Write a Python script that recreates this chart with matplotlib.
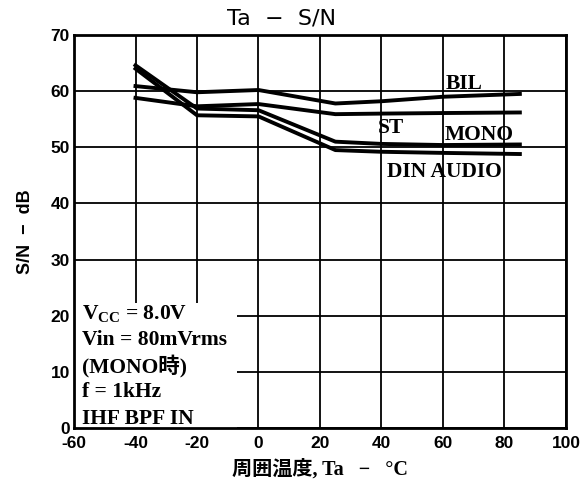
import matplotlib
matplotlib.use('Agg')
import matplotlib.pyplot as plt
from matplotlib.patches import Rectangle

plt.rcParams['font.family'] = ['Liberation Sans', 'Noto Sans CJK JP']
plt.rcParams['axes.unicode_minus'] = False
plt.rcParams['mathtext.fontset'] = 'custom'
plt.rcParams['mathtext.rm'] = 'Liberation Serif:bold'
plt.rcParams['mathtext.it'] = 'Liberation Serif:bold'
plt.rcParams['mathtext.bf'] = 'Liberation Serif:bold'

# 周囲温度 (°C)
temps = [-40, -20, 0, 25, 40, 60, 85]
# S/N (dB)
bil = [60.9, 59.8, 60.2, 57.8, 58.2, 59.0, 59.5]
st = [58.8, 57.3, 57.7, 55.9, 56.0, 56.1, 56.2]
mono = [64.6, 56.9, 56.6, 51.0, 50.6, 50.4, 50.5]
din = [64.0, 55.7, 55.5, 49.5, 49.2, 49.0, 48.8]

series_labels = ['BIL', 'ST', 'MONO', 'DIN AUDIO']
label_pos = [(61, 61.2), (38.9, 53.4), (60.6, 52.2), (41.8, 45.6)]

cond_lines = ['V$_{\\mathrm{CC}}$ = 8.0V', 'Vin = 80mVrms', '(MONO時)', 'f = 1kHz', 'IHF BPF IN']

xticks = list(range(-60, 101, 20))
yticks = list(range(0, 71, 10))

fig = plt.figure(figsize=(5.85, 4.84), dpi=100)
ax = fig.add_axes([0.1265, 0.1157, 0.841, 0.812])

ax.set_xlim(-60, 100)
ax.set_ylim(0, 70)
ax.set_xticks(xticks)
ax.set_yticks(yticks)
ax.set_axisbelow(True)
ax.grid(True, color='black', linewidth=1.3)
ax.tick_params(length=0, labelsize=12.5)
ax.tick_params(axis='x', pad=6)
ax.tick_params(axis='y', pad=3)
for lab in ax.get_xticklabels() + ax.get_yticklabels():
    lab.set_fontweight('bold')
for sp in ax.spines.values():
    sp.set_linewidth(2)

# 条件欄の白地
ax.add_patch(Rectangle((0, 0), 0.331, 0.318, transform=ax.transAxes,
                       facecolor='white', edgecolor='none', zorder=1))

for ys in [bil, st, mono, din]:
    ax.plot(temps, ys, color='black', linewidth=2.8, zorder=3)

for name, (lx, ly) in zip(series_labels, label_pos):
    ax.text(lx, ly, name, ha='left', va='center', fontsize=15.5,
            family='Liberation Serif', fontweight='bold', zorder=4)

for i, t in enumerate(cond_lines):
    ax.text(0.016, 0.292 - i * 0.067, t, transform=ax.transAxes,
            ha='left', va='center', fontsize=15.5,
            family=['Liberation Serif', 'Noto Sans CJK JP'],
            fontweight='bold', zorder=4)

fig.text(0.482, 0.962, 'Ta  −  S/N', ha='center', va='center', fontsize=16,
         family='DejaVu Sans', fontweight='medium')
ax.set_ylabel('S/N  −  dB', fontsize=13, fontweight='bold', labelpad=12)
ax.set_xlabel('周囲温度, Ta   −   °C', fontsize=14.5,
              family=['Liberation Serif', 'Noto Sans CJK JP'],
              fontweight='bold', labelpad=6)

fig.savefig('out.png', dpi=100)
plt.close()
